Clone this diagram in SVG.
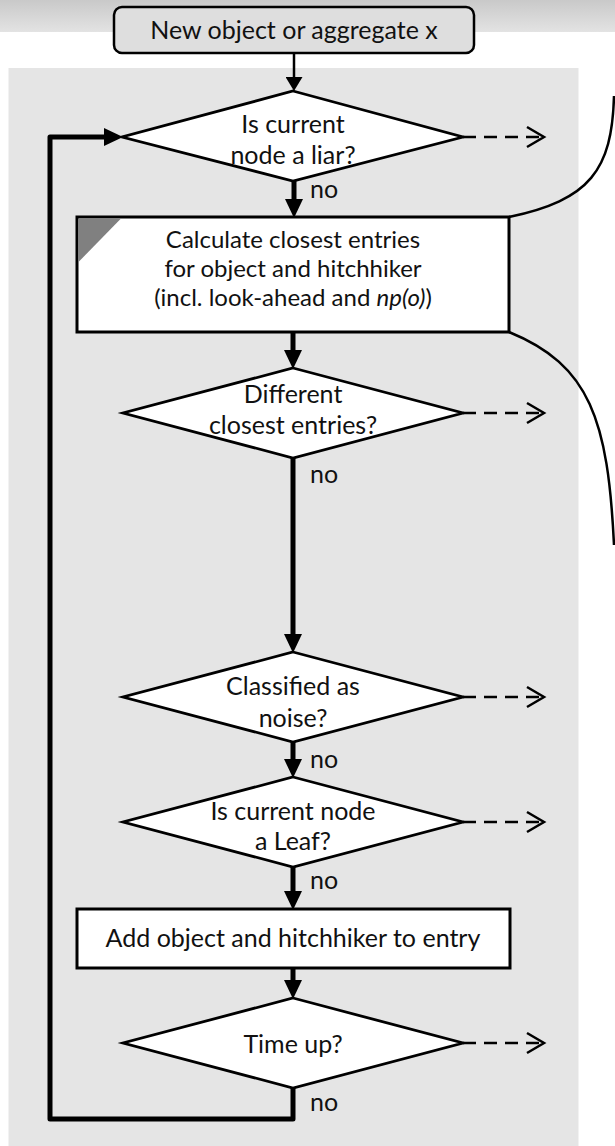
<svg xmlns="http://www.w3.org/2000/svg" width="615" height="1146" viewBox="0 0 615 1146">
  <style>
    .lbl { font-family: "Lato", "Open Sans", "Liberation Sans", sans-serif; font-size: 25px; fill: #111; text-anchor: middle; }
    .tight { font-size: 24px; }
    .no { text-anchor: start; }
    .dia { fill: #fff; stroke: #000; stroke-width: 2.8; stroke-linejoin: miter; }
    .box { fill: #fff; stroke: #000; stroke-width: 3; }
    .flow { fill: none; stroke: #000; stroke-width: 5; stroke-linejoin: round; }
    .thin { fill: none; stroke: #000; stroke-width: 2.5; }
    .dash { fill: none; stroke: #000; stroke-width: 2.5; stroke-dasharray: 13 8; }
    .head { fill: none; stroke: #000; stroke-width: 2.5; stroke-linejoin: miter; }
    .curve { fill: none; stroke: #000; stroke-width: 2.5; }
  </style>
  <defs>
    <linearGradient id="band" x1="0" y1="0" x2="0" y2="1">
      <stop offset="0" stop-color="#c9c9c9"/>
      <stop offset="1" stop-color="#e3e3e3"/>
    </linearGradient>
    <marker id="big" viewBox="0 0 19 18" refX="0" refY="9" markerWidth="19" markerHeight="18" markerUnits="userSpaceOnUse" orient="auto">
      <path d="M0,0 L19,9 L0,18 z" fill="#000"/>
    </marker>
    <marker id="small" viewBox="0 0 14 17" refX="0" refY="8.5" markerWidth="14" markerHeight="17" markerUnits="userSpaceOnUse" orient="auto">
      <path d="M0,0 L14,8.5 L0,17 z" fill="#000"/>
    </marker>
  </defs>

  <!-- header band and process panel -->
  <rect x="0" y="0" width="615" height="32" fill="url(#band)"/>
  <rect x="8.5" y="68" width="570" height="1078" fill="#e5e5e5"/>

  <!-- external links leaving on the right -->
  <g id="links">
    <path class="curve" d="M509,217 C590,200 612,170 614,96"/>
    <path class="curve" d="M509,332 C590,365 608,420 614,545"/>
  </g>

  <g id="connectors">
    <path class="thin" d="M294,53 V77" marker-end="url(#small)"/>
    <path class="flow" d="M294,181 V199" marker-end="url(#big)"/>
    <path class="flow" d="M293,332 V350" marker-end="url(#big)"/>
    <path class="flow" d="M293,458 V634" marker-end="url(#big)"/>
    <path class="flow" d="M293,742 V759" marker-end="url(#big)"/>
    <path class="flow" d="M293,867 V891" marker-end="url(#big)"/>
    <path class="flow" d="M293,968 V980" marker-end="url(#big)"/>
    <path class="flow" d="M293,1088 V1119 H50 V137 H104" marker-end="url(#big)"/>
    <!-- "yes" exits -->
    <path class="dash" d="M463,137 H541"/>
    <path class="head" d="M527,127 L544,137 L527,147"/>
    <path class="dash" d="M463,413 H541"/>
    <path class="head" d="M527,403 L544,413 L527,423"/>
    <path class="dash" d="M463,697 H541"/>
    <path class="head" d="M527,687 L544,697 L527,707"/>
    <path class="dash" d="M463,822 H541"/>
    <path class="head" d="M527,812 L544,822 L527,832"/>
    <path class="dash" d="M463,1043 H541"/>
    <path class="head" d="M527,1033 L544,1043 L527,1053"/>
    <text class="lbl no" x="310" y="198">no</text>
    <text class="lbl no" x="310" y="483">no</text>
    <text class="lbl no" x="310" y="768">no</text>
    <text class="lbl no" x="310" y="889">no</text>
    <text class="lbl no" x="310" y="1111">no</text>
  </g>

  <g id="start">
    <rect x="114" y="7" width="360" height="46" rx="8" fill="#dedede" stroke="#000" stroke-width="2.5"/>
    <text class="lbl" x="294" y="39">New object or aggregate x</text>
  </g>

  <g id="liar">
    <polygon class="dia" points="293,91 463,137 293,181 122,137"/>
    <text class="lbl" x="293" y="133">Is current</text>
    <text class="lbl" x="293" y="164">node a liar?</text>
  </g>

  <g id="closest">
    <rect class="box" x="77" y="217" width="432" height="115"/>
    <polygon points="78.5,218.5 121,218.5 78.5,262" fill="#808080"/>
    <text class="lbl tight" x="293" y="248">Calculate closest entries</text>
    <text class="lbl tight" x="293" y="277">for object and hitchhiker</text>
    <text class="lbl tight" x="293" y="306">(incl. look-ahead and <tspan font-style="italic">np(o)</tspan>)</text>
  </g>

  <g id="different">
    <polygon class="dia" points="293,368 463,413 293,458 123,413"/>
    <text class="lbl" x="293" y="403">Different</text>
    <text class="lbl" x="293" y="434">closest entries?</text>
  </g>

  <g id="noise">
    <polygon class="dia" points="293,652 463,697 293,742 123,697"/>
    <text class="lbl" x="293" y="695">Classified as</text>
    <text class="lbl" x="293" y="727">noise?</text>
  </g>

  <g id="leaf">
    <polygon class="dia" points="293,777 463,822 293,867 123,822"/>
    <text class="lbl" x="293" y="820">Is current node</text>
    <text class="lbl" x="293" y="850">a Leaf?</text>
  </g>

  <g id="add">
    <rect class="box" x="77" y="909" width="433" height="59"/>
    <text class="lbl" x="293" y="947">Add object and hitchhiker to entry</text>
  </g>

  <g id="timeup">
    <polygon class="dia" points="293,998 463,1043 293,1088 123,1043"/>
    <text class="lbl" x="293" y="1053">Time up?</text>
  </g>
</svg>
